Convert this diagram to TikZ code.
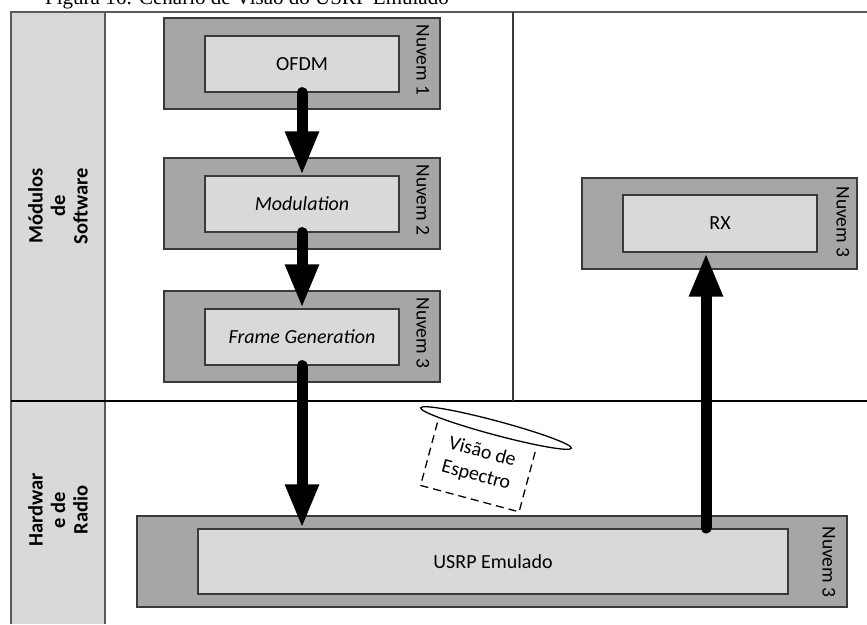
\documentclass[tikz,border=0pt]{standalone}
\usepackage{fontspec}
\setmainfont{Carlito}
\newfontfamily\capfont{Liberation Serif}
\usetikzlibrary{arrows.meta}
\definecolor{cloudgrey}{HTML}{A6A6A6}
\definecolor{modgrey}{HTML}{D9D9D9}
\definecolor{edgegrey}{HTML}{3A3A3A}
\definecolor{framegrey}{HTML}{5A5A5A}

\begin{document}
\begin{tikzpicture}[x=1pt,y=-1pt,
  cloud/.style={draw=edgegrey, line width=1.5pt, fill=cloudgrey, inner sep=0pt},
  module/.style={draw=edgegrey, line width=1.3pt, fill=modgrey, inner sep=0pt,
    font=\fontsize{20}{23}\selectfont},
  cloudlabel/.style={rotate=-90, anchor=west, inner sep=0pt,
    font=\fontsize{19.5}{22}\selectfont},
  layerlabel/.style={rotate=90, align=center, inner sep=0pt,
    font=\fontsize{20.5}{22.5}\selectfont\bfseries},
  flow/.style={line width=11pt, line cap=round, -{Triangle[length=44pt,width=31pt]}},
  spectrum/.style={line width=1.3pt, dash pattern=on 8pt off 5pt}
]
\useasboundingbox (0,0) rectangle (867,624);

% figure caption running off the top edge
\begin{scope}
  \clip (0,0) rectangle (867,624);
  \node[anchor=base west, inner sep=0pt, font=\capfont\fontsize{21}{25}\selectfont]
    (caption) at (45,4) {Figura 16: Cenário de Visão do USRP Emulado};
\end{scope}

% layer frame
\fill[modgrey] (11,12) rectangle (105,624);
\draw[framegrey, line width=2pt] (10,12) -- (867,12);
\draw[framegrey, line width=1.5pt] (11,12) -- (11,624);
\draw[framegrey, line width=1.5pt] (105,12) -- (105,624);
\draw[black, line width=2pt] (11,401) -- (867,401);
\draw[edgegrey, line width=2pt] (513,12) -- (513,401);

\node[layerlabel] (swlayer) at (58,206) {Módulos\\de\\Software};
\node[layerlabel] (hwlayer) at (58,510) {Hardwar\\e de\\Radio};

% cloud 1: OFDM
\node[cloud, minimum width=276pt, minimum height=91pt] (cloudA) at (302,63.5) {};
\node[module, minimum width=194pt, minimum height=56pt] (ofdm) at (302,64) {OFDM};
\node[cloudlabel] (labA) at ([xshift=-18pt,yshift=-7pt]cloudA.north east) {Nuvem 1};

% cloud 2: modulation
\node[cloud, minimum width=276pt, minimum height=91pt] (cloudB) at (302,203.5) {};
\node[module, minimum width=194pt, minimum height=56pt] (modulation) at (302,204) {\itshape Modulation};
\node[cloudlabel] (labB) at ([xshift=-18pt,yshift=-7pt]cloudB.north east) {Nuvem 2};

% cloud 3: frame generation
\node[cloud, minimum width=276pt, minimum height=91pt] (cloudC) at (302,336.5) {};
\node[module, minimum width=194pt, minimum height=56pt] (framegen) at (302,337) {\itshape Frame Generation};
\node[cloudlabel] (labC) at ([xshift=-18pt,yshift=-7pt]cloudC.north east) {Nuvem 3};

% receiver cloud
\node[cloud, minimum width=275pt, minimum height=91pt] (cloudRX) at (719.5,223.5) {};
\node[module, minimum width=194pt, minimum height=57pt] (rx) at (720,223.5) {RX};
\node[cloudlabel] (labRX) at ([xshift=-15pt,yshift=-9pt]cloudRX.north east) {Nuvem 3};

% emulated radio hardware
\node[cloud, minimum width=710pt, minimum height=91pt] (cloudHW) at (492,561.5) {};
\node[module, minimum width=590pt, minimum height=65pt] (usrp) at (493,561.5) {USRP Emulado};
\node[cloudlabel] (labHW) at ([xshift=-19pt,yshift=-11pt]cloudHW.north east) {Nuvem 3};

% data flow
\coordinate (usrpout) at (706,528);
\draw[flow] (ofdm.south) -- (modulation.north);
\draw[flow] (modulation.south) -- (framegen.north);
\draw[flow] (framegen.south) -- (framegen.south |- usrp.north);
\draw[flow] (usrpout) -- (usrpout |- rx.south);

% spectrum view
\begin{scope}[shift={(496,428)}, rotate=-15]
  \draw[line width=1.3pt, fill=white] (0,0) ellipse [x radius=78, y radius=7];
  \draw[spectrum] (-58,10) -- (-58,75) -- (44,75) -- (44,9);
  \node[align=center, inner sep=0pt, rotate=-15, font=\fontsize{20}{24}\selectfont]
    (specview) at (-7,39) {Visão de\\Espectro};
\end{scope}
\end{tikzpicture}
\end{document}
